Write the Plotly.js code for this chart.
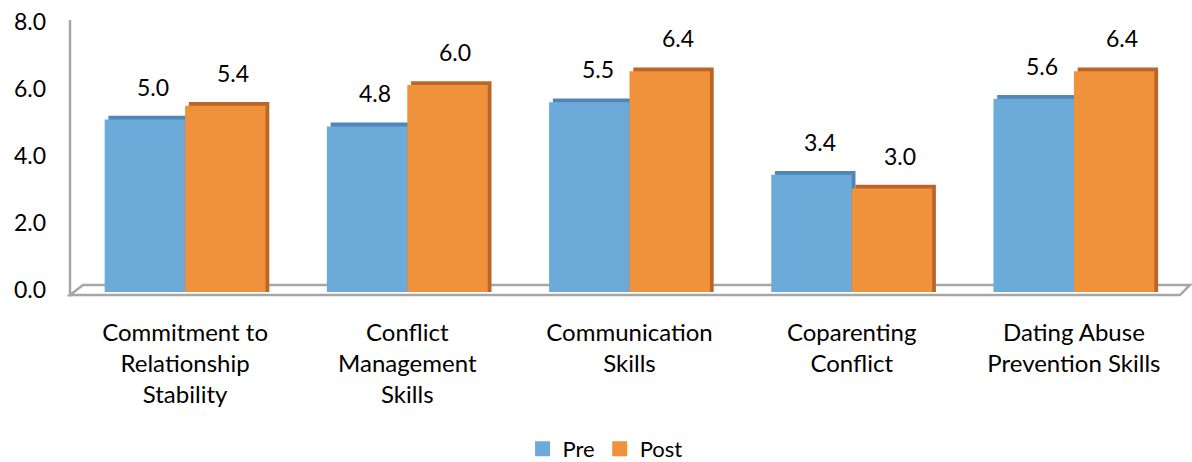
<!DOCTYPE html>
<html>
<head>
<meta charset="utf-8">
<script src="https://cdn.plot.ly/plotly-3.0.1.min.js"></script>
<style>html,body{margin:0;padding:0;background:#fff;}#chart{width:1192px;height:462px;}</style>
</head>
<body>
<div id="chart"></div>
<script>
const categories = [
  "Commitment to<br>Relationship<br>Stability",
  "Conflict<br>Management<br>Skills",
  "Communication<br>Skills",
  "Coparenting<br>Conflict",
  "Dating Abuse<br>Prevention Skills"
];
const preValues = [5.0, 4.8, 5.5, 3.4, 5.6];
const postValues = [5.4, 6.0, 6.4, 3.0, 6.4];
const seriesNames = ["Pre", "Post"];
const yTickValues = [0, 2, 4, 6, 8];

const FONT = 'Lato, "Open Sans", sans-serif';
const colors = {pre: "#6CAADA", post: "#F0913C", preDepth: "#4F87B8", postDepth: "#BA6629"};
const idx = categories.map((c, i) => i);
const barW = 0.362;
const depthX = 0.017, depthY = 0.11;

function bar(vals, name, color, offset, add, dx) {
  return {
    type: "bar", x: idx, y: vals.map(v => v + add), name: name,
    offset: offset + dx, width: barW, base: 0,
    marker: {color: color, line: {width: 0}},
    showlegend: false, hoverinfo: "skip", xaxis: "x", yaxis: "y"
  };
}

const traces = [
  bar(preValues, "Pre depth", colors.preDepth, -barW, depthY, depthX),
  bar(postValues, "Post depth", colors.postDepth, 0, depthY, depthX),
  bar(preValues, seriesNames[0], colors.pre, -barW, 0, 0),
  bar(postValues, seriesNames[1], colors.post, 0, 0, 0),
  {type: "scatter", mode: "markers", x: [null], y: [null], name: seriesNames[0],
   marker: {symbol: "square", size: 15, color: colors.pre}, xaxis: "x", yaxis: "y2"},
  {type: "scatter", mode: "markers", x: [null], y: [null], name: seriesNames[1],
   marker: {symbol: "square", size: 15, color: colors.post}, xaxis: "x", yaxis: "y2"}
];

const annotations = [];
preValues.forEach((v, i) => annotations.push({
  x: i, y: v, xref: "x", yref: "y", text: v.toFixed(1), showarrow: false,
  xshift: -32, yshift: 33, yanchor: "middle", font: {family: FONT, size: 23, color: "#000"}
}));
postValues.forEach((v, i) => annotations.push({
  x: i, y: v, xref: "x", yref: "y", text: v.toFixed(1), showarrow: false,
  xshift: 48, yshift: 33, yanchor: "middle", font: {family: FONT, size: 23, color: "#000"}
}));

const grey = "#A6A6A6";
const layout = {
  width: 1192, height: 462,
  margin: {l: 74, r: 7, t: 16, b: 170, pad: 0, autoexpand: false},
  paper_bgcolor: "#fff", plot_bgcolor: "#fff",
  barmode: "overlay",
  font: {family: FONT, size: 23, color: "#000"},
  xaxis: {
    type: "linear", range: [-0.5, categories.length - 0.5], automargin: false,
    tickvals: idx, ticktext: categories, ticks: "", showgrid: false, zeroline: false,
    showline: false, ticklabelstandoff: 24, tickfont: {family: FONT, size: 24, color: "#000"}
  },
  yaxis: {range: [0, 8], showticklabels: false, showgrid: false, zeroline: false, showline: false, ticks: "", automargin: false},
  yaxis2: {
    overlaying: "y", side: "left", anchor: "x", range: [-0.059, 8.19], automargin: false,
    tickvals: yTickValues, tickformat: ".1f", showgrid: false, zeroline: false, showline: false,
    ticks: "", ticklabelstandoff: 27, tickfont: {family: FONT, size: 23, color: "#000"}
  },
  legend: {
    orientation: "h", x: 0.478, xanchor: "center", y: -0.569, yanchor: "middle",
    font: {family: FONT, size: 22, color: "#000"}, itemclick: false, bgcolor: "rgba(0,0,0,0)"
  },
  annotations: annotations,
  shapes: [
    {type: "path", xref: "paper", yref: "paper", layer: "below",
     path: "M -0.0036 -0.0109 L 0.0081 0.0254 L 1.0045 0.0254 L 0.9955 -0.0109 Z",
     line: {color: grey, width: 2.5}, fillcolor: "rgba(0,0,0,0)"},
    {type: "line", xref: "paper", yref: "paper", layer: "below",
     x0: -0.0036, x1: -0.0036, y0: -0.016, y1: 0.9855, line: {color: grey, width: 2.5}}
  ]
};

Plotly.newPlot("chart", traces, layout, {displayModeBar: false, staticPlot: true});
</script>
</body>
</html>
